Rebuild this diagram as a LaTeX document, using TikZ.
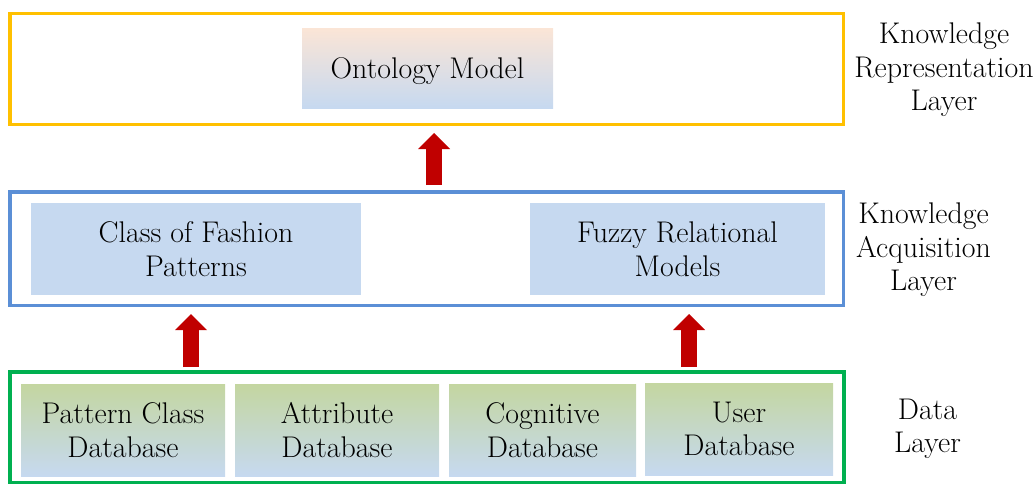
\documentclass[tikz,border=0pt]{standalone}
\usetikzlibrary{arrows.meta,calc}
\definecolor{ygold}{HTML}{FFC000}
\definecolor{lblue}{HTML}{5B8FD6}
\definecolor{lgreen}{HTML}{00B050}
\definecolor{boxblue}{HTML}{C6D9F0}
\definecolor{peach}{HTML}{FBE5D6}
\definecolor{olive}{HTML}{C4D6A0}
\definecolor{arrred}{HTML}{C00000}
\begin{document}
\begin{tikzpicture}[x=1pt,y=-1pt,
  every node/.style={font=\fontsize{29.9}{33.5}\selectfont, align=center, inner sep=0pt, outer sep=0pt,
    execute at begin node={\rule{0pt}{27pt}}},
  layerbox/.style={draw, line width=3.3pt, minimum width=833.5pt},
  plainbox/.style={fill=boxblue, minimum height=92pt},
  ontobox/.style={top color=peach, bottom color=boxblue, minimum width=251pt, minimum height=80pt},
  dbbox/.style={top color=olive, bottom color=boxblue, minimum height=92pt},
  bigarrow/.style={draw=arrred, line width=16pt, -{Triangle[width=32pt,length=16pt,line width=0pt]}}
]
\useasboundingbox (0,0) rectangle (1036,485);

% layers
\node[layerbox, draw=ygold, minimum height=111pt] (yellow) at (426.75,69) {};
\node[layerbox, draw=lblue, minimum height=113.5pt] (blue) at (426.75,248.75) {};
\node[layerbox, draw=lgreen, minimum height=110.5pt, minimum width=834pt] (green) at (427,427.25) {};

% inner boxes
\node[ontobox] (onto) at (427.5,68) {Ontology Model};
\node[plainbox, minimum width=330pt] (class) at (196,249) {Class of Fashion\\Patterns};
\node[plainbox, minimum width=295pt] (fuzzy) at (677.5,249) {Fuzzy Relational\\Models};
\node[dbbox, minimum width=204pt] (db1) at (123,430) {Pattern Class\\Database};
\node[dbbox, minimum width=204pt] (db2) at (337,430) {Attribute\\Database};
\node[dbbox, minimum width=187pt] (db3) at (542.5,430) {Cognitive\\Database};
\node[dbbox, minimum width=188pt] (db4) at (739,429) {User\\Database};

% labels
\node (lbl1) at (944,70) {Knowledge\\Representation\\Layer};
\node (lbl2) at (923.5,250) {Knowledge\\Acquisition\\Layer};
\node (lbl3) at (927.5,429) {Data\\Layer};

% arrows
\draw[bigarrow] ($(blue.north)+(7.25,-7)$) -- ($(yellow.south)+(7.25,8.5)$);
\draw[bigarrow] ($(green.north -| class)+(-5,-5)$) -- ($(blue.south -| class)+(-5,8.5)$);
\draw[bigarrow] ($(green.north -| fuzzy)+(11.5,-5)$) -- ($(blue.south -| fuzzy)+(11.5,8.5)$);
\end{tikzpicture}
\end{document}
